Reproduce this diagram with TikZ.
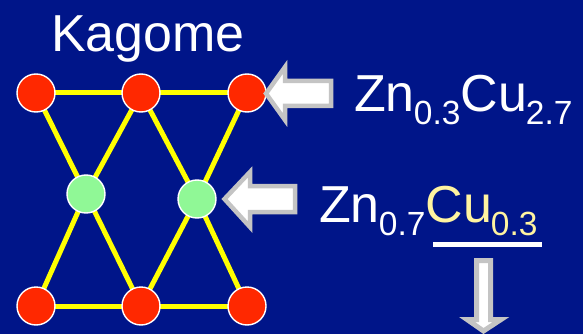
\documentclass[tikz,border=0pt]{standalone}
\usepackage{fontspec}
\setmainfont{Liberation Sans}
\definecolor{bgblue}{RGB}{0,21,137}
\definecolor{nodered}{RGB}{255,40,0}
\definecolor{nodegreen}{RGB}{144,248,150}
\definecolor{lineyellow}{RGB}{255,255,0}
\definecolor{arrowgray}{RGB}{196,196,196}
\definecolor{cuyellow}{RGB}{255,244,160}
\newcommand{\bigf}{\fontsize{52}{52}\selectfont}
\newcommand{\subf}[1]{\kern-1pt\raisebox{-13pt}{\fontsize{33.5}{33.5}\selectfont #1}}
\begin{document}
\begin{tikzpicture}[x=1pt,y=-1pt,
  site/.style={circle,draw=white,line width=1.4pt,minimum size=38pt,inner sep=0pt},
  redsite/.style={site,fill=nodered},
  greensite/.style={site,fill=nodegreen},
  bond/.style={lineyellow,line width=5pt},
  blockarrow/.style={draw=arrowgray,fill=white,line width=4.5pt,line join=miter},
  label/.style={text=white,inner sep=0pt,anchor=base west}]
\fill[bgblue] (0,0) rectangle (583,334);
\useasboundingbox (0,0) rectangle (583,334);

\node[text=white,inner sep=0pt,anchor=base] (title) at (148,52) {\bigf Kagome};

\coordinate (pr1) at (36,93);
\coordinate (pr2) at (141,93);
\coordinate (pr3) at (247,93);
\coordinate (pg1) at (86,194);
\coordinate (pg2) at (197,199);
\coordinate (pb1) at (36,306);
\coordinate (pb2) at (141,306);
\coordinate (pb3) at (247,306);

\draw[bond] (pr1) -- (pr2) -- (pr3);
\draw[bond] (pb1) -- (pb2) -- (pb3);
\draw[bond] (pr1) -- (pg1) -- (pb2) -- (pg2) -- (pr3);
\draw[bond] (pr2) -- (pg1) -- (pb1);
\draw[bond] (pr2) -- (pg2) -- (pb3);

\node[redsite] (r1) at (pr1) {};
\node[redsite] (r2) at (pr2) {};
\node[redsite] (r3) at (pr3) {};
\node[greensite] (g1) at (pg1) {};
\node[greensite] (g2) at (pg2) {};
\node[redsite] (b1) at (pb1) {};
\node[redsite] (b2) at (pb2) {};
\node[redsite] (b3) at (pb3) {};

% block arrows
\draw[blockarrow] (266,93.5) -- (285,67) -- (285,81) -- (331,81) -- (331,106) -- (285,106) -- (285,120) -- cycle;
\draw[blockarrow] (224.5,199) -- (250,172) -- (250,186) -- (295,186) -- (295,212) -- (250,212) -- (250,227) -- cycle;
\draw[blockarrow,line width=5pt] (476.5,260.5) -- (490.5,260.5) -- (490.5,319.5) -- (501,319.5) -- (483.5,331) -- (467,319.5) -- (476.5,319.5) -- cycle;

\node[label] (f1) at (354,112) {\bigf Zn\subf{0.3}Cu\subf{2.7}};
\node[label] (f2) at (319,222) {\bigf Zn\subf{0.7}\textcolor{cuyellow}{Cu\subf{0.3}}};
\coordinate (u1) at (433,244.5);
\coordinate (u2) at (542,244.5);
\draw[white,line width=5pt] (u1) -- (u2);
\end{tikzpicture}
\end{document}
